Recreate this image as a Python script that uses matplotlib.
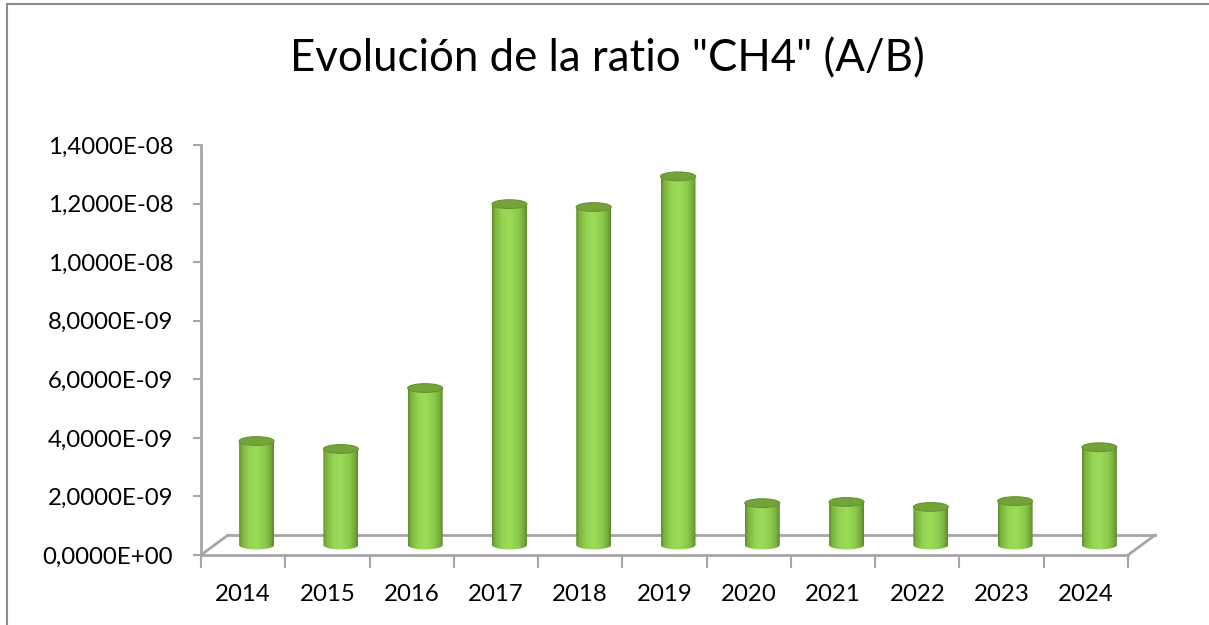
import numpy as np
import matplotlib
matplotlib.use("Agg")
import matplotlib.pyplot as plt
from matplotlib.path import Path
from matplotlib.patches import PathPatch, Ellipse
from matplotlib.colors import LinearSegmentedColormap
from matplotlib.ticker import FuncFormatter, FixedLocator

# datos
years = ["2014", "2015", "2016", "2017", "2018", "2019", "2020", "2021", "2022", "2023", "2024"]
ratio_ch4 = [3.55e-9, 3.28e-9, 5.36e-9, 11.64e-9, 11.54e-9, 12.59e-9,
             1.43e-9, 1.47e-9, 1.30e-9, 1.50e-9, 3.34e-9]
y_ticks = [0, 2e-9, 4e-9, 6e-9, 8e-9, 1e-8, 1.2e-8, 1.4e-8]

plt.rcParams['font.family'] = ['Lato', 'DejaVu Sans']

fig = plt.figure(figsize=(12.09, 6.25), dpi=100)
ax = fig.add_axes([201 / 1209, 70 / 625, 954 / 1209, 410 / 625])

gris = "#A6A6A6"
depth_x = 0.32          # fondo del suelo 3D (en categorias)
depth_y = 0.68e-9       # fondo del suelo 3D (en unidades del eje)
n = len(years)

# suelo 3D
x0, x1 = -0.5, n - 0.5
ax.plot([x0, x1], [0, 0], color=gris, lw=2, zorder=1, clip_on=False)
ax.plot([x0 + depth_x, x1 + depth_x], [depth_y, depth_y], color=gris, lw=2, zorder=1, clip_on=False)
ax.plot([x0, x0 + depth_x], [0, depth_y], color=gris, lw=2, zorder=1, clip_on=False)
ax.plot([x1, x1 + depth_x], [0, depth_y], color=gris, lw=2, zorder=1, clip_on=False)

# cilindros
cmap = LinearSegmentedColormap.from_list("verde", [
    (0.0, "#5C8B2A"), (0.08, "#7AB23C"), (0.3, "#96D553"), (0.5, "#9BDC58"),
    (0.75, "#8CCB4C"), (0.92, "#74A93B"), (1.0, "#5A8729")])
grad = np.linspace(0, 1, 200).reshape(1, -1)
w = 0.415
base = depth_y / 2
eh = 0.3e-9
t = np.linspace(np.pi, 2 * np.pi, 40)
for i, v in enumerate(ratio_ch4):
    xc = i + depth_x / 2
    top = base + v
    xs = xc + (w / 2) * np.cos(t)
    ys = base + (eh / 2) * np.sin(t)
    verts = list(zip(xs, ys)) + [(xc + w / 2, top), (xc - w / 2, top), (xs[0], ys[0])]
    codes = [Path.MOVETO] + [Path.LINETO] * (len(verts) - 2) + [Path.CLOSEPOLY]
    clip = PathPatch(Path(verts, codes), facecolor="none", edgecolor="none")
    ax.add_patch(clip)
    im = ax.imshow(grad, cmap=cmap, aspect="auto", zorder=3,
                   extent=[xc - w / 2, xc + w / 2, base - eh, top + eh])
    im.set_clip_path(clip)
    ax.add_patch(Ellipse((xc, top), w, eh, facecolor="#73A339", edgecolor="#66962F",
                         lw=0.8, zorder=4))

ax.set_xlim(-0.5, n - 0.5 + depth_x)
ax.set_ylim(0, 1.4e-8)

# ejes
for s in ["top", "right", "bottom"]:
    ax.spines[s].set_visible(False)
ax.spines["left"].set_color(gris)
ax.spines["left"].set_linewidth(2)
ax.spines["left"].set_position(("data", -0.5))
ax.set_yticks(y_ticks)
ax.yaxis.set_major_formatter(FuncFormatter(lambda v, p: f"{v:.4E}".replace(".", ",")))
ax.tick_params(axis="y", length=6, width=1.5, color=gris, pad=14, labelsize=17.3)

ax.set_xticks(range(n))
ax.set_xticklabels(years)
ax.xaxis.set_minor_locator(FixedLocator([i - 0.5 for i in range(n + 1)]))
ax.tick_params(axis="x", which="major", length=0, pad=21, labelsize=17.3)
ax.tick_params(axis="x", which="minor", length=9, width=1.5, color=gris)

fig.text(0.502, 1 - 59 / 625, 'Evolución de la ratio "CH4" (A/B)', ha="center", va="center",
         fontsize=31.5)

# marco del grafico
fig.add_artist(plt.Line2D([7 / 1209, 7 / 1209], [0, 1 - 4 / 625], color="#8C8C8C", lw=1.5))
fig.add_artist(plt.Line2D([7 / 1209, 1], [1 - 4 / 625, 1 - 4 / 625], color="#8C8C8C", lw=1.5))

fig.savefig("out.png", dpi=100)
